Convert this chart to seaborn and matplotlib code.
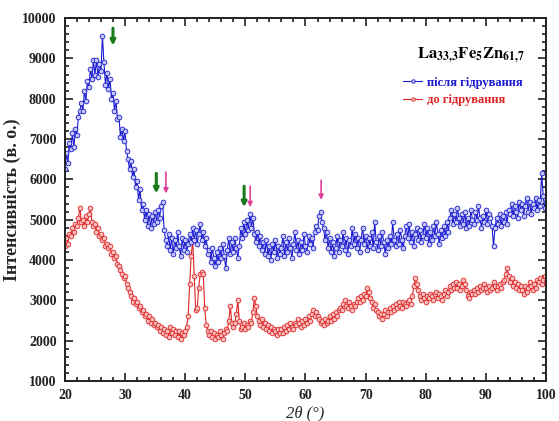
import numpy as np
import pandas as pd
import matplotlib
matplotlib.use("Agg")
import matplotlib.pyplot as plt
import seaborn as sns

# 2θ grid, 0.25° step
two_theta = np.arange(20.0, 100.0001, 0.25)

# After hydrogenation (counts)
after_h = [
    6250, 6650, 6400, 6900,  6750, 7150, 6800, 7250,  7100, 7550, 7700, 7900,
    7700, 8200, 7950, 8450,  8300, 8750, 8500, 8950,  8600, 8950, 8550, 8850,
    8700, 9550, 8900, 8350,  8650, 8250, 8500, 8000,  8150, 7700, 7950, 7500,
    7550, 7050, 7250, 6950,  7200, 6700, 6500, 6250,  6450, 6050, 6250, 5800,
    5950, 5500, 5750, 5250,  5400, 5000, 5250, 4850,  5150, 4800, 5100, 4900,
    5200, 4950, 5250, 5050,  5350, 5450, 4750, 4500,  4350, 4650, 4250, 4550,
    4150, 4500, 4300, 4700,  4350, 4100, 4550, 4250,  4500, 4200, 4400, 4650,
    4450, 4800, 4500, 4750,  4400, 4650, 4900, 4500,  4700, 4350, 4550, 4150,
    4250, 3950, 4300, 4050,  3850, 4200, 3950, 4300,  4050, 4400, 4100, 3800,
    4250, 4550, 4150, 4450,  4200, 4550, 4300, 4050,  4350, 4800, 4550, 4950,
    4650, 5000, 4750, 5150,  4800, 5050, 4650, 4450,  4700, 4350, 4600, 4250,
    4450, 4150, 4500, 4100,  4350, 4000, 4400, 4200,  4500, 4050, 4350, 4150,
    4300, 4600, 4100, 4450,  4200, 4550, 4300, 4050,  4400, 4700, 4250, 4500,
    4150, 4450, 4250, 4650,  4350, 4200, 4600, 4400,  4550, 4300, 4700, 4850,
    4750, 5100, 5200, 4950,  4800, 4500, 4700, 4300,  4550, 4200, 4450, 4100,
    4300, 4600, 4200, 4500,  4350, 4700, 4250, 4550,  4150, 4500, 4350, 4800,
    4400, 4650, 4300, 4550,  4200, 4500, 4800, 4400,  4600, 4250, 4550, 4350,
    4700, 4300, 4950, 4450,  4250, 4600, 4350, 4700,  4450, 4150, 4500, 4300,
    4600, 4400, 4950, 4500,  4350, 4650, 4400, 4750,  4500, 4300, 4600, 4850,
    4550, 4900, 4450, 4700,  4350, 4650, 4800, 4500,  4750, 4450, 4600, 4900,
    4550, 4800, 4400, 4700,  4500, 4850, 4600, 4950,  4650, 4400, 4750, 4550,
    4850, 4600, 4950, 4700,  5050, 5250, 4900, 5150,  4950, 5300, 5050, 4850,
    5150, 4900, 5200, 4800,  5050, 4850, 5250, 5000,  4900, 5200, 5000, 5350,
    5050, 4800, 5100, 4950,  5250, 4900, 5150, 5050,  4850, 4350, 4800, 5050,
    4900, 5150, 4850, 5100,  4950, 5200, 4900, 5250,  5150, 5400, 5100, 5350,
    5200, 5050, 5450, 5250,  5400, 5100, 5350, 5550,  5200, 5450, 5150, 5400,
    5300, 5550, 5250, 5500,  5350, 6150, 5600, 5300,  5450,
]

# Before hydrogenation (counts)
before_h = [
    4350, 4550, 4400, 4650,  4600, 4800, 4700, 4900,  4850, 5050, 5300, 4950,
    5000, 4850, 5100, 4950,  5150, 5300, 4950, 4850,  4900, 4700, 4800, 4600,
    4650, 4500, 4550, 4350,  4400, 4300, 4350, 4150,  4200, 4050, 4100, 3900,
    3850, 3750, 3650, 3550,  3600, 3400, 3300, 3200,  3100, 2950, 3050, 2900,
    2950, 2800, 2850, 2700,  2750, 2600, 2650, 2500,  2600, 2450, 2550, 2400,
    2450, 2350, 2400, 2250,  2350, 2200, 2300, 2150,  2250, 2100, 2350, 2200,
    2300, 2150, 2250, 2100,  2250, 2050, 2200, 2150,  2250, 2350, 2600, 3400,
    4100, 4500, 3600, 2750,  2800, 3300, 3650, 3700,  3650, 2800, 2400, 2250,
    2150, 2250, 2100, 2200,  2050, 2150, 2100, 2250,  2150, 2050, 2200, 2300,
    2250, 2500, 2850, 2450,  2350, 2450, 2650, 3000,  2500, 2300, 2350, 2450,
    2300, 2400, 2350, 2500,  2450, 2700, 3050, 2850,  2600, 2500, 2400, 2550,
    2350, 2450, 2300, 2400,  2250, 2350, 2200, 2300,  2250, 2150, 2300, 2200,
    2300, 2200, 2350, 2250,  2400, 2300, 2450, 2350,  2300, 2450, 2400, 2550,
    2450, 2350, 2500, 2400,  2550, 2450, 2600, 2500,  2650, 2750, 2600, 2700,
    2600, 2550, 2450, 2500,  2400, 2550, 2450, 2500,  2600, 2500, 2650, 2550,
    2700, 2600, 2750, 2800,  2750, 2900, 3000, 2850,  2800, 2950, 2850, 2750,
    2900, 2850, 2950, 3050,  2950, 3100, 3000, 3150,  3100, 3300, 3200, 3050,
    2950, 2800, 2900, 2750,  2700, 2600, 2650, 2550,  2650, 2750, 2600, 2700,
    2800, 2700, 2850, 2750,  2900, 2800, 2950, 2850,  2800, 2950, 2900, 2850,
    2950, 3000, 2900, 3100,  3350, 3550, 3400, 3250,  3100, 3000, 3150, 3050,
    2950, 3100, 3050, 3150,  3100, 3000, 3150, 3200,  3050, 3150, 3100, 3000,
    3150, 3250, 3100, 3200,  3350, 3250, 3400, 3300,  3450, 3300, 3400, 3250,
    3350, 3500, 3400, 3250,  3100, 3050, 3200, 3150,  3250, 3150, 3300, 3200,
    3350, 3250, 3300, 3400,  3300, 3200, 3350, 3250,  3300, 3450, 3350, 3250,
    3350, 3400, 3300, 3450,  3500, 3650, 3800, 3600,  3450, 3550, 3350, 3450,
    3300, 3400, 3250, 3350,  3250, 3150, 3350, 3200,  3300, 3450, 3350, 3250,
    3400, 3300, 3500, 3450,  3550, 3400, 3500, 3600,  3450,
]

sample_title = r"$\mathbf{La}_{\mathbf{33{,}3}}\mathbf{Fe}_{\mathbf{5}}\mathbf{Zn}_{\mathbf{61{,}7}}$"
label_after = "після гідрування"
label_before = "до гідрування"

# Reflection markers: 2θ position, arrow top, arrow tip, colour
green_c = "#1b7a1b"
pink_c = "#e0409a"
arrow_x = [28.0, 35.2, 36.8, 49.8, 50.8, 62.6]
arrow_top = [9750, 6150, 6180, 5830, 5830, 5980]
arrow_tip = [9320, 5650, 5650, 5310, 5310, 5490]
arrow_col = [green_c, green_c, pink_c, green_c, pink_c, pink_c]

sns.set_style("ticks")
plt.rcParams["font.family"] = ["Liberation Serif", "DejaVu Serif"]
plt.rcParams["mathtext.fontset"] = "stix"

df_after = pd.DataFrame({"x": two_theta, "y": after_h})
df_before = pd.DataFrame({"x": two_theta, "y": before_h})

fig = plt.figure(figsize=(5.59, 4.21), dpi=100)
ax = fig.add_axes([0.116, 0.095, 0.861, 0.862])

blue = "#1a1ad0"
red = "#e02424"
sns.lineplot(data=df_before, x="x", y="y", ax=ax, color=red, lw=0.8,
             marker="o", markersize=3.4, markerfacecolor="#f6c0c0",
             markeredgecolor=red, markeredgewidth=0.6, label=label_before)
sns.lineplot(data=df_after, x="x", y="y", ax=ax, color=blue, lw=0.8,
             marker="o", markersize=3.4, markerfacecolor="#c4c8f4",
             markeredgecolor=blue, markeredgewidth=0.6, label=label_after)

for x0, yt, yb, c in zip(arrow_x, arrow_top, arrow_tip, arrow_col):
    w = 2.2 if c == green_c else 1.2
    ax.annotate("", xy=(x0, yb), xytext=(x0, yt),
                arrowprops=dict(arrowstyle="-|>", color=c, lw=w,
                                mutation_scale=7, shrinkA=0, shrinkB=0))

ax.set_xlim(20, 100)
ax.set_ylim(1000, 10000)
ax.set_xticks(np.arange(20, 101, 10))
ax.set_xticks(np.arange(20, 101, 2), minor=True)
ax.set_yticks(np.arange(1000, 10001, 1000))
ax.set_yticks(np.arange(1000, 10001, 200), minor=True)
ax.tick_params(which="both", direction="in", top=True, right=True,
               width=1.2, colors="#222222")
ax.tick_params(which="major", length=6, labelsize=10, pad=6)
ax.tick_params(which="minor", length=3)
for lab in ax.get_xticklabels() + ax.get_yticklabels():
    lab.set_fontweight("bold")
for sp in ax.spines.values():
    sp.set_linewidth(1.4)
    sp.set_color("#222222")

ax.set_xlabel("2θ (°)", fontsize=12, fontstyle="italic", labelpad=2)
ax.set_ylabel("Інтенсивність (в. о.)", fontsize=13, fontweight="bold",
              labelpad=1)

ax.text(0.956, 0.898, sample_title, transform=ax.transAxes, ha="right",
        va="center", fontsize=12, color="black")

handles, labels = ax.get_legend_handles_labels()
order = [labels.index(label_after), labels.index(label_before)]
leg = ax.legend([handles[i] for i in order], [labels[i] for i in order],
                loc="upper right", bbox_to_anchor=(0.975, 0.87),
                frameon=False, handlelength=1.5, handletextpad=0.4,
                labelspacing=0.45, prop={"weight": "bold", "size": 9})
for txt, col in zip(leg.get_texts(), [blue, red]):
    txt.set_color(col)
for ln in leg.get_lines():
    ln.set_markersize(2.5)

fig.savefig("out.png", dpi=100)
